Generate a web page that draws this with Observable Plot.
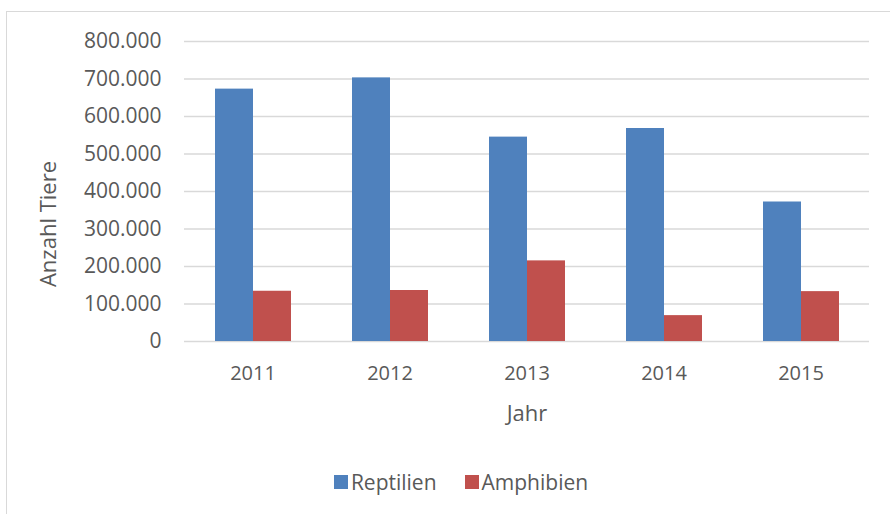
<!DOCTYPE html>
<html>
<head>
<meta charset="utf-8">
<script src="https://cdn.jsdelivr.net/npm/d3@7"></script>
<script src="https://cdn.jsdelivr.net/npm/@observablehq/plot@0.6"></script>
<style>
  html, body { margin: 0; padding: 0; background: #fff; }
  #wrap { position: relative; width: 890px; height: 514px; overflow: hidden; font-family: "Open Sans", sans-serif; color: #595959; }
  #frame { position: absolute; left: 6px; top: 11px; width: 900px; height: 520px; border: 1.5px solid #d9d9d9; box-sizing: border-box; }
  #chart { position: absolute; left: 0; top: 0; }
  #ylabel { position: absolute; left: 47px; top: 224px; transform: translate(-50%, -50%) rotate(-90deg); font-size: 22px; white-space: nowrap; }
  #legend { position: absolute; left: 0; top: 468px; width: 890px; display: flex; justify-content: center; align-items: center; font-size: 21px; padding-left: 32px; box-sizing: border-box; }
  .item { display: flex; align-items: center; margin: 0 14px; }
  .sw { width: 14px; height: 14px; margin-right: 3px; }
</style>
</head>
<body>
<div id="wrap">
  <div id="frame"></div>
  <div id="chart"></div>
  <div id="ylabel">Anzahl Tiere</div>
  <div id="legend"></div>
</div>
<script>
const years = ["2011", "2012", "2013", "2014", "2015"];
const seriesNames = ["Reptilien", "Amphibien"];
const reptilien = [673000, 703000, 545000, 568000, 372000];
const amphibien = [134000, 136000, 215000, 69000, 133000];
const yTicks = [0, 100000, 200000, 300000, 400000, 500000, 600000, 700000, 800000];
const colors = ["#4F81BD", "#C0504D"];

const data = [];
years.forEach((y, i) => {
  data.push({year: y, series: seriesNames[0], value: reptilien[i]});
  data.push({year: y, series: seriesNames[1], value: amphibien[i]});
});

const de = d3.formatLocale({decimal: ",", thousands: ".", grouping: [3], currency: ["", " €"]});
const fmt = de.format(",");

const chart = Plot.plot({
  width: 890,
  height: 440,
  marginLeft: 182,
  marginRight: 19,
  marginTop: 41,
  marginBottom: 99,
  style: {fontFamily: "Open Sans, sans-serif", color: "#595959", background: "transparent"},
  fx: {domain: years, padding: 0},
  x: {domain: seriesNames, paddingInner: 0, paddingOuter: 0.765, axis: null},
  y: {domain: [0, 800000]},
  color: {domain: seriesNames, range: colors},
  marks: [
    Plot.gridY(yTicks, {stroke: "#d9d9d9", strokeOpacity: 1, strokeWidth: 1.5}),
    Plot.barY(data, {fx: "year", x: "series", y: "value", fill: "series"}),
    Plot.axisY(yTicks, {tickSize: 0, tickPadding: 23, tickFormat: fmt, fontSize: 21, label: null, fill: "#595959"}),
    Plot.axisFx({anchor: "bottom", tickSize: 0, tickPadding: 24, fontSize: 20, label: null, fill: "#595959"}),
    Plot.axisFx({anchor: "bottom", ticks: [], tickSize: 0, fontSize: 22, label: "Jahr", labelAnchor: "center", labelOffset: 79, fill: "#595959"})
  ]
});
document.getElementById("chart").appendChild(chart);

const legend = document.getElementById("legend");
seriesNames.forEach((s, i) => {
  const item = document.createElement("div");
  item.className = "item";
  const sw = document.createElement("div");
  sw.className = "sw";
  sw.style.background = colors[i];
  const t = document.createElement("span");
  t.textContent = s;
  item.appendChild(sw);
  item.appendChild(t);
  legend.appendChild(item);
});
</script>
</body>
</html>
